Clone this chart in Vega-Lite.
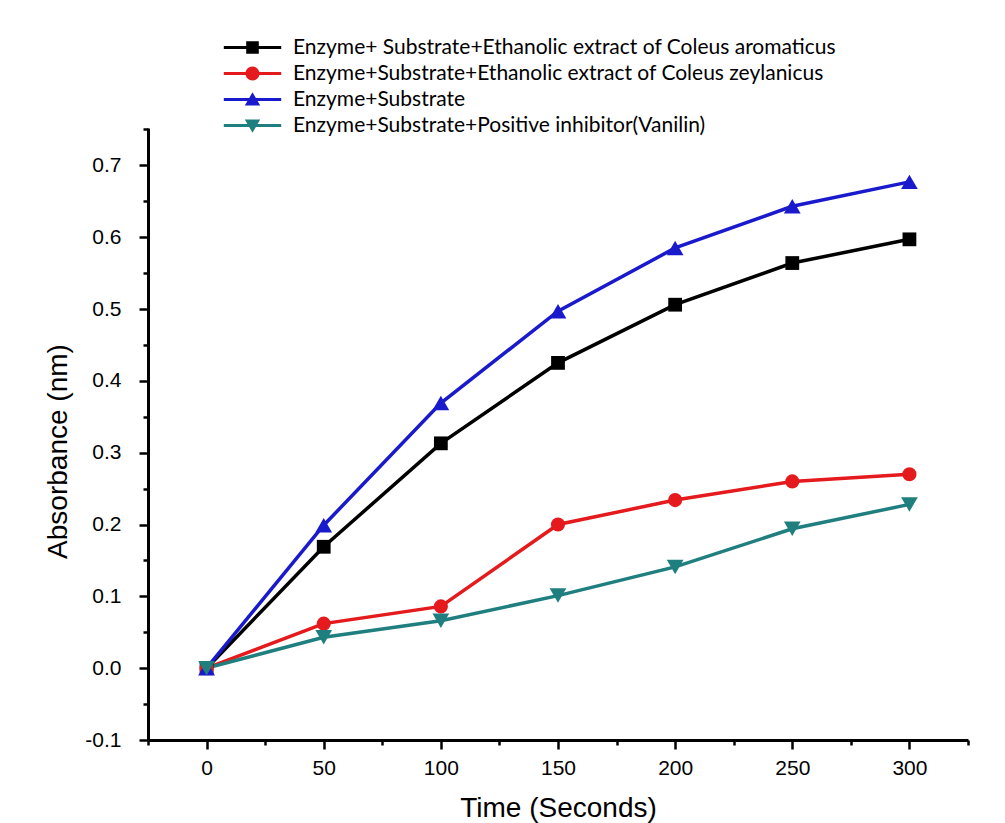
{
  "$schema": "https://vega.github.io/schema/vega-lite/v6.json",
  "width": 820,
  "height": 612,
  "autosize": {"type": "none"},
  "padding": {"left": 148, "top": 128, "right": 37, "bottom": 83},
  "background": "white",
  "config": {
    "view": {"stroke": null},
    "font": "Liberation Sans",
    "axis": {
      "grid": false,
      "domainColor": "black",
      "domainWidth": 3,
      "tickColor": "black",
      "tickWidth": 2.5,
      "tickSize": 9,
      "labelColor": "black",
      "labelFont": "Liberation Sans",
      "labelFontSize": 21,
      "titleFont": "Liberation Sans",
      "titleFontSize": 28,
      "titleFontWeight": "normal",
      "titleColor": "black"
    },
    "legend": {
      "title": null,
      "orient": "none",
      "legendX": 94,
      "legendY": -91,
      "padding": 0,
      "symbolSize": 196,
      "symbolStrokeWidth": 0,
      "labelOffset": 30,
      "rowPadding": 4,
      "labelFont": "Lato",
      "labelFontSize": 21,
      "labelColor": "black",
      "labelLimit": 0
    }
  },
  "data": {
    "values": [
      {"t": 0, "a": 0, "s": "Enzyme+ Substrate+Ethanolic extract of Coleus aromaticus"},
      {"t": 50, "a": 0.169, "s": "Enzyme+ Substrate+Ethanolic extract of Coleus aromaticus"},
      {"t": 100, "a": 0.313, "s": "Enzyme+ Substrate+Ethanolic extract of Coleus aromaticus"},
      {"t": 150, "a": 0.425, "s": "Enzyme+ Substrate+Ethanolic extract of Coleus aromaticus"},
      {"t": 200, "a": 0.506, "s": "Enzyme+ Substrate+Ethanolic extract of Coleus aromaticus"},
      {"t": 250, "a": 0.564, "s": "Enzyme+ Substrate+Ethanolic extract of Coleus aromaticus"},
      {"t": 300, "a": 0.597, "s": "Enzyme+ Substrate+Ethanolic extract of Coleus aromaticus"},
      {"t": 0, "a": 0, "s": "Enzyme+Substrate+Ethanolic extract of Coleus zeylanicus"},
      {"t": 50, "a": 0.062, "s": "Enzyme+Substrate+Ethanolic extract of Coleus zeylanicus"},
      {"t": 100, "a": 0.086, "s": "Enzyme+Substrate+Ethanolic extract of Coleus zeylanicus"},
      {"t": 150, "a": 0.2, "s": "Enzyme+Substrate+Ethanolic extract of Coleus zeylanicus"},
      {"t": 200, "a": 0.234, "s": "Enzyme+Substrate+Ethanolic extract of Coleus zeylanicus"},
      {"t": 250, "a": 0.26, "s": "Enzyme+Substrate+Ethanolic extract of Coleus zeylanicus"},
      {"t": 300, "a": 0.27, "s": "Enzyme+Substrate+Ethanolic extract of Coleus zeylanicus"},
      {"t": 0, "a": 0, "s": "Enzyme+Substrate"},
      {"t": 50, "a": 0.199, "s": "Enzyme+Substrate"},
      {"t": 100, "a": 0.369, "s": "Enzyme+Substrate"},
      {"t": 150, "a": 0.497, "s": "Enzyme+Substrate"},
      {"t": 200, "a": 0.585, "s": "Enzyme+Substrate"},
      {"t": 250, "a": 0.643, "s": "Enzyme+Substrate"},
      {"t": 300, "a": 0.677, "s": "Enzyme+Substrate"},
      {"t": 0, "a": 0, "s": "Enzyme+Substrate+Positive inhibitor(Vanilin)"},
      {"t": 50, "a": 0.043, "s": "Enzyme+Substrate+Positive inhibitor(Vanilin)"},
      {"t": 100, "a": 0.066, "s": "Enzyme+Substrate+Positive inhibitor(Vanilin)"},
      {"t": 150, "a": 0.101, "s": "Enzyme+Substrate+Positive inhibitor(Vanilin)"},
      {"t": 200, "a": 0.141, "s": "Enzyme+Substrate+Positive inhibitor(Vanilin)"},
      {"t": 250, "a": 0.194, "s": "Enzyme+Substrate+Positive inhibitor(Vanilin)"},
      {"t": 300, "a": 0.228, "s": "Enzyme+Substrate+Positive inhibitor(Vanilin)"}
    ]
  },
  "resolve": {"axis": {"x": "independent", "y": "independent"}},
  "layer": [
    {
      "mark": {"type": "line", "strokeWidth": 3.5},
      "encoding": {
        "x": {
          "field": "t", "type": "quantitative",
          "scale": {"domain": [-25, 325], "nice": false, "zero": false},
          "axis": {
            "orient": "bottom",
            "values": [0, 50, 100, 150, 200, 250, 300],
            "labelPadding": 8,
            "title": "Time (Seconds)",
            "titleY": 76,
            "titleBaseline": "alphabetic"
          }
        },
        "y": {
          "field": "a", "type": "quantitative",
          "scale": {"domain": [-0.1, 0.752], "nice": false, "zero": false},
          "axis": {
            "orient": "left",
            "values": [-0.1, 0, 0.1, 0.2, 0.3, 0.4, 0.5, 0.6, 0.7],
            "labelExpr": "replace(format(datum.value, '.1f'), '\u2212', '-')",
            "labelPadding": 18,
            "title": "Absorbance (nm)",
            "titleAngle": 270,
            "titleX": -90,
            "titleY": 323,
            "titleBaseline": "middle"
          }
        },
        "color": {
          "field": "s", "type": "nominal",
          "scale": {
            "domain": [
              "Enzyme+ Substrate+Ethanolic extract of Coleus aromaticus",
              "Enzyme+Substrate+Ethanolic extract of Coleus zeylanicus",
              "Enzyme+Substrate",
              "Enzyme+Substrate+Positive inhibitor(Vanilin)"
            ],
            "range": ["#000000", "#e41a1c", "#1a1acd", "#1f7f7f"]
          }
        }
      }
    },
    {
      "transform": [{"filter": "datum.s === 'Enzyme+ Substrate+Ethanolic extract of Coleus aromaticus'"}],
      "mark": {"type": "point", "filled": true, "opacity": 1, "shape": "square", "size": 190},
      "encoding": {
        "x": {
          "field": "t", "type": "quantitative",
          "axis": {
            "orient": "bottom",
            "values": [-25, 25, 75, 125, 175, 225, 275, 325],
            "labels": false, "domain": false, "tickSize": 5, "title": null
          }
        },
        "y": {
          "field": "a", "type": "quantitative",
          "axis": {
            "orient": "left",
            "values": [-0.05, 0.05, 0.15, 0.25, 0.35, 0.45, 0.55, 0.65, 0.75],
            "labels": false, "domain": false, "tickSize": 5, "title": null
          }
        },
        "color": {"field": "s", "type": "nominal"}
      }
    },
    {
      "transform": [{"filter": "datum.s === 'Enzyme+Substrate+Ethanolic extract of Coleus zeylanicus'"}],
      "mark": {"type": "point", "filled": true, "opacity": 1, "shape": "circle", "size": 200},
      "encoding": {
        "x": {"field": "t", "type": "quantitative", "axis": null},
        "y": {"field": "a", "type": "quantitative", "axis": null},
        "color": {"field": "s", "type": "nominal"}
      }
    },
    {
      "transform": [{"filter": "datum.s === 'Enzyme+Substrate'"}],
      "mark": {"type": "point", "filled": true, "opacity": 1, "shape": "triangle-up", "size": 280},
      "encoding": {
        "x": {"field": "t", "type": "quantitative", "axis": null},
        "y": {"field": "a", "type": "quantitative", "axis": null},
        "color": {"field": "s", "type": "nominal"}
      }
    },
    {
      "transform": [{"filter": "datum.s === 'Enzyme+Substrate+Positive inhibitor(Vanilin)'"}],
      "mark": {"type": "point", "filled": true, "opacity": 1, "shape": "triangle-down", "size": 280},
      "encoding": {
        "x": {"field": "t", "type": "quantitative", "axis": null},
        "y": {"field": "a", "type": "quantitative", "axis": null},
        "color": {"field": "s", "type": "nominal"}
      }
    },
    {
      "transform": [{"filter": "datum.t < -1"}],
      "mark": {"type": "point", "filled": true, "opacity": 1},
      "encoding": {
        "x": {"field": "t", "type": "quantitative", "axis": null},
        "y": {"field": "a", "type": "quantitative", "axis": null},
        "color": {"field": "s", "type": "nominal"},
        "shape": {
          "field": "s", "type": "nominal",
          "scale": {
            "domain": [
              "Enzyme+ Substrate+Ethanolic extract of Coleus aromaticus",
              "Enzyme+Substrate+Ethanolic extract of Coleus zeylanicus",
              "Enzyme+Substrate",
              "Enzyme+Substrate+Positive inhibitor(Vanilin)"
            ],
            "range": [
              "M-4.1,-0.22H4.1V0.22H-4.1ZM-0.9,-0.9H0.9V0.9H-0.9Z",
              "M-4.1,-0.22H4.1V0.22H-4.1ZM-1,0A1,1 0 1,1 1,0A1,1 0 1,1 -1,0Z",
              "M-4.1,-0.22H4.1V0.22H-4.1ZM0,-1.05L1.1,0.85H-1.1Z",
              "M-4.1,-0.22H4.1V0.22H-4.1ZM0,1.05L-1.1,-0.85H1.1Z"
            ]
          }
        }
      }
    }
  ]
}
